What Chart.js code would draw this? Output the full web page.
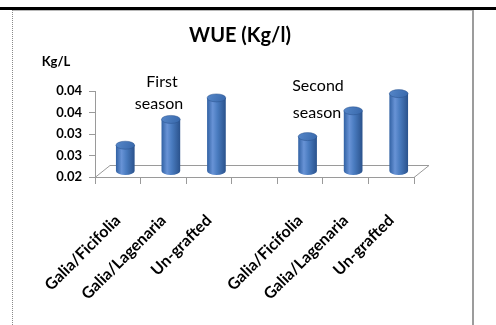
<!DOCTYPE html>
<html>
<head>
<meta charset="utf-8">
<script src="https://cdn.jsdelivr.net/npm/chart.js@4/dist/chart.umd.min.js"></script>
<style>
  html, body { margin: 0; padding: 0; background: #ffffff; }
  #wrap { position: relative; width: 496px; height: 325px; }
</style>
</head>
<body>
<div id="wrap"><canvas id="c" width="496" height="325"></canvas></div>
<script>
// Water use efficiency per grafting treatment, two seasons (gap category between them)
const categories = ['Galia/Ficifolia', 'Galia/Lagenaria', 'Un-grafted', '', 'Galia/Ficifolia', 'Galia/Lagenaria', 'Un-grafted'];
const wueValues = [0.026, 0.032, 0.037, null, 0.028, 0.034, 0.038];
const yTicks = [0.02, 0.025, 0.03, 0.035, 0.04];
const seasonLabels = [['First', 'season'], ['Second', 'season']];
const titleText = 'WUE (Kg/l)';
const unitText = 'Kg/L';

const FONT = 'Lato, "Open Sans", "DejaVu Sans", sans-serif';
const Y_FLOOR = 0.02;  // value axis starts here
const DEPTH_X = 15;    // floor depth offset (3-D look)
const DEPTH_Y = -12;
const AXIS_GREY = '#9a9a9a';

// page frame, title and annotations
const framePlugin = {
  id: 'frame',
  beforeDraw(chart) {
    const ctx = chart.ctx;
    ctx.save();
    ctx.fillStyle = '#ffffff';
    ctx.fillRect(0, 0, chart.width, chart.height);
    // heavy rule across the top
    ctx.fillStyle = '#000000';
    ctx.fillRect(0, 7, chart.width, 3);
    // chart box
    ctx.strokeStyle = '#b8b8b8';
    ctx.lineWidth = 1;
    ctx.beginPath();
    ctx.moveTo(13, 10.5); ctx.lineTo(472, 10.5);
    ctx.stroke();
    ctx.setLineDash([1, 1]);
    ctx.strokeStyle = '#8a8a8a';
    ctx.beginPath();
    ctx.moveTo(12.5, 10); ctx.lineTo(12.5, chart.height);
    ctx.stroke();
    ctx.setLineDash([]);
    ctx.strokeStyle = '#9c9c9c';
    ctx.lineWidth = 2;
    ctx.beginPath();
    ctx.moveTo(473, 10); ctx.lineTo(473, chart.height);
    ctx.stroke();
    ctx.restore();
  },
  afterDraw(chart) {
    const ctx = chart.ctx;
    ctx.save();
    ctx.fillStyle = '#000000';
    ctx.textAlign = 'center';
    ctx.textBaseline = 'middle';
    ctx.font = 'bold 20px ' + FONT;
    ctx.fillText(titleText, 240, 36);
    ctx.font = 'bold 13px ' + FONT;
    ctx.fillText(unitText, 56, 62);
    ctx.font = '16px ' + FONT;
    // season captions sit above the first bar of each group
    const anchors = [[162, 82, 159, 104], [318, 86, 317, 113]];
    seasonLabels.forEach((lines, i) => {
      const a = anchors[i];
      ctx.fillText(lines[0], a[0], a[1]);
      ctx.fillText(lines[1], a[2], a[3]);
    });
    ctx.restore();
  }
};

// 3-D floor outline and cylinders placed from the bar elements
const cylinderPlugin = {
  id: 'cylinders',
  beforeDatasetsDraw(chart) {
    const ctx = chart.ctx;
    const a = chart.chartArea;
    const y0 = chart.scales.y.getPixelForValue(Y_FLOOR);
    ctx.save();
    ctx.strokeStyle = AXIS_GREY;
    ctx.lineWidth = 1;
    ctx.beginPath();
    ctx.moveTo(a.left, y0 + 0.5);
    ctx.lineTo(a.left + DEPTH_X, y0 + DEPTH_Y + 0.5);
    ctx.lineTo(a.right + DEPTH_X, y0 + DEPTH_Y + 0.5);
    ctx.lineTo(a.right, y0 + 0.5);
    ctx.stroke();
    ctx.restore();
  },
  afterDatasetsDraw(chart) {
    const ctx = chart.ctx;
    const meta = chart.getDatasetMeta(0);
    const yScale = chart.scales.y;
    ctx.save();
    meta.data.forEach((el, i) => {
      const v = wueValues[i];
      if (v == null) return;
      const p = el.getProps(['x', 'width'], true);
      const cx = p.x + DEPTH_X / 2;
      const top = yScale.getPixelForValue(v) + DEPTH_Y / 2;
      const bottom = yScale.getPixelForValue(Y_FLOOR) + DEPTH_Y / 2;
      const rx = p.width / 2;
      const ry = 4;
      const left = cx - rx, right = cx + rx;
      const g = ctx.createLinearGradient(left, 0, right, 0);
      g.addColorStop(0, '#3161a3');
      g.addColorStop(0.3, '#6893d6');
      g.addColorStop(0.55, '#4a7cc0');
      g.addColorStop(1, '#2a528c');
      ctx.fillStyle = g;
      ctx.beginPath();
      ctx.moveTo(left, top);
      ctx.lineTo(left, bottom);
      ctx.ellipse(cx, bottom, rx, ry, 0, Math.PI, 0, true);
      ctx.lineTo(right, top);
      ctx.closePath();
      ctx.fill();
      // top cap
      const tg = ctx.createLinearGradient(left, top - ry, right, top + ry);
      tg.addColorStop(0, '#5687c9');
      tg.addColorStop(1, '#3767aa');
      ctx.fillStyle = tg;
      ctx.beginPath();
      ctx.ellipse(cx, top, rx, ry, 0, 0, Math.PI * 2);
      ctx.fill();
      ctx.strokeStyle = 'rgba(40,80,140,0.6)';
      ctx.lineWidth = 0.8;
      ctx.stroke();
    });
    ctx.restore();
  }
};

new Chart(document.getElementById('c'), {
  type: 'bar',
  data: {
    labels: categories,
    datasets: [{
      label: titleText,
      data: wueValues,
      base: Y_FLOOR,
      backgroundColor: 'rgba(0,0,0,0)',
      borderWidth: 0,
      categoryPercentage: 1,
      barPercentage: 0.41
    }]
  },
  options: {
    responsive: false,
    animation: false,
    devicePixelRatio: 1,
    layout: { padding: { left: 0, right: 82, top: 91, bottom: 0 } },
    plugins: {
      legend: { display: false },
      title: { display: false },
      tooltip: { enabled: false }
    },
    scales: {
      x: {
        offset: true,
        grid: {
          display: true,
          offset: true,
          drawOnChartArea: false,
          drawTicks: true,
          tickLength: 7,
          color: AXIS_GREY
        },
        border: { display: true, color: AXIS_GREY },
        ticks: {
          autoSkip: false,
          maxRotation: 45,
          minRotation: 45,
          padding: 27,
          color: '#000000',
          font: { family: FONT, size: 16, weight: 'bold' }
        },
        afterFit(scale) { scale.height = 148; }
      },
      y: {
        min: 0.02,
        max: 0.04,
        afterBuildTicks(scale) { scale.ticks = yTicks.map(v => ({ value: v })); },
        grid: {
          display: true,
          drawOnChartArea: false,
          drawTicks: true,
          tickLength: 6,
          color: AXIS_GREY
        },
        border: { display: true, color: AXIS_GREY },
        ticks: {
          padding: 7,
          color: '#000000',
          font: { family: FONT, size: 13, weight: 'bold' },
          callback: v => Number(v).toFixed(2)
        },
        afterFit(scale) { scale.width = 95; }
      }
    }
  },
  plugins: [framePlugin, cylinderPlugin]
});
</script>
</body>
</html>
